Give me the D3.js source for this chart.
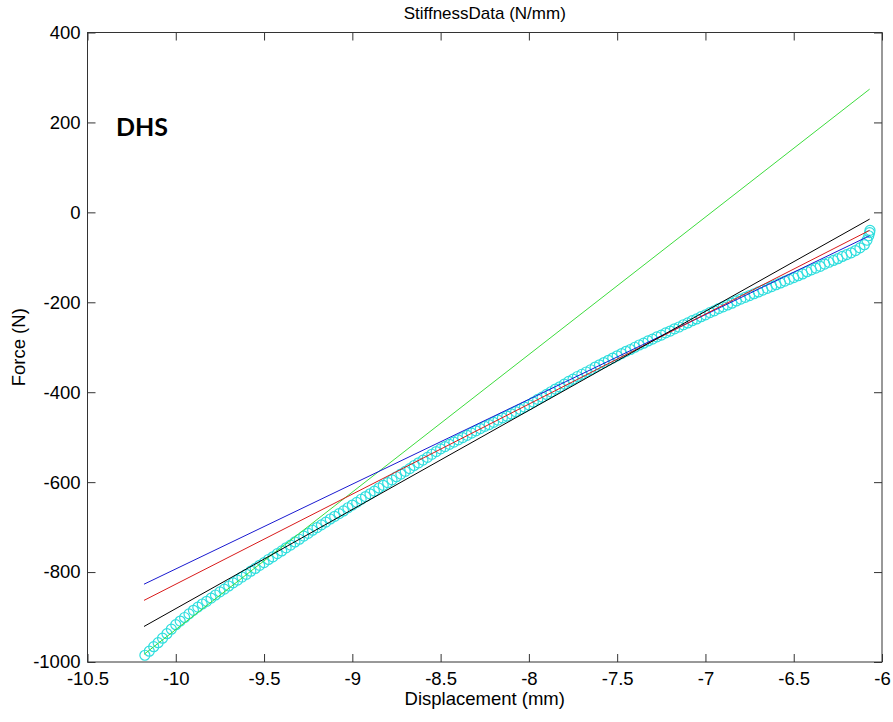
<!DOCTYPE html>
<html>
<head>
<meta charset="utf-8">
<script src="https://cdn.jsdelivr.net/npm/d3@7"></script>
<style>
  body { margin: 0; background: #fff; }
  svg text { font-family: "Liberation Sans", Arial, sans-serif; fill: #000; }
</style>
</head>
<body>
<svg id="stiffness" width="893" height="722"></svg>
<script>
// tick labels
const xTicks = [-10.5, -10, -9.5, -9, -8.5, -8, -7.5, -7, -6.5, -6];
const yTicks = [-1000, -800, -600, -400, -200, 0, 200, 400];

// measured force vs displacement (cyan circles)
const measured = [
  [-10.175, -985], [-10.15, -976], [-10.125, -966], [-10.1, -957],
  [-10.075, -947], [-10.05, -937], [-10.025, -927], [-10.0, -917],
  [-9.975, -909], [-9.95, -901], [-9.925, -893], [-9.9, -885],
  [-9.875, -878], [-9.85, -871], [-9.825, -865], [-9.8, -858],
  [-9.775, -851], [-9.75, -844], [-9.725, -838], [-9.7, -831],
  [-9.675, -824], [-9.65, -818], [-9.625, -811], [-9.6, -805],
  [-9.575, -798], [-9.55, -792], [-9.525, -785], [-9.5, -779],
  [-9.475, -772], [-9.45, -766], [-9.425, -759], [-9.4, -753],
  [-9.375, -746], [-9.35, -740], [-9.325, -733], [-9.3, -727],
  [-9.275, -720], [-9.25, -714], [-9.225, -707], [-9.2, -701],
  [-9.175, -695], [-9.15, -689], [-9.125, -682], [-9.1, -676],
  [-9.075, -670], [-9.05, -664], [-9.025, -657], [-9.0, -651],
  [-8.975, -645], [-8.95, -638], [-8.925, -632], [-8.9, -626],
  [-8.875, -620], [-8.85, -613], [-8.825, -607], [-8.8, -601],
  [-8.775, -595], [-8.75, -588], [-8.725, -582], [-8.7, -576],
  [-8.675, -570], [-8.65, -563], [-8.625, -557], [-8.6, -551],
  [-8.575, -545], [-8.55, -538], [-8.525, -532], [-8.5, -526],
  [-8.475, -521], [-8.45, -516], [-8.425, -511], [-8.4, -506],
  [-8.375, -501], [-8.35, -496], [-8.325, -491], [-8.3, -486],
  [-8.275, -481], [-8.25, -476], [-8.225, -472], [-8.2, -467],
  [-8.175, -462], [-8.15, -457], [-8.125, -453], [-8.1, -448],
  [-8.075, -443], [-8.05, -438], [-8.025, -433], [-8.0, -428],
  [-7.975, -422], [-7.95, -416], [-7.925, -411], [-7.9, -405],
  [-7.875, -399], [-7.85, -393], [-7.825, -388], [-7.8, -382],
  [-7.775, -376], [-7.75, -371], [-7.725, -365], [-7.7, -360],
  [-7.675, -355], [-7.65, -350], [-7.625, -344], [-7.6, -339],
  [-7.575, -334], [-7.55, -329], [-7.525, -324], [-7.5, -319],
  [-7.475, -314], [-7.45, -309], [-7.425, -305], [-7.4, -300],
  [-7.375, -295], [-7.35, -291], [-7.325, -286], [-7.3, -282],
  [-7.275, -277], [-7.25, -273], [-7.225, -268], [-7.2, -264],
  [-7.175, -259], [-7.15, -255], [-7.125, -250], [-7.1, -246],
  [-7.075, -241], [-7.05, -237], [-7.025, -232], [-7.0, -228],
  [-6.975, -223], [-6.95, -219], [-6.925, -214], [-6.9, -210],
  [-6.875, -206], [-6.85, -202], [-6.825, -197], [-6.8, -193],
  [-6.775, -189], [-6.75, -185], [-6.725, -181], [-6.7, -177],
  [-6.675, -173], [-6.65, -169], [-6.625, -165], [-6.6, -161],
  [-6.575, -157], [-6.55, -153], [-6.525, -149], [-6.5, -145],
  [-6.475, -141], [-6.45, -137], [-6.425, -132], [-6.4, -128],
  [-6.375, -124], [-6.35, -120], [-6.325, -115], [-6.3, -111],
  [-6.275, -107], [-6.25, -103], [-6.225, -98], [-6.2, -94],
  [-6.175, -90], [-6.15, -85], [-6.125, -79], [-6.1, -72],
  [-6.085, -62], [-6.075, -52], [-6.07, -45], [-6.068, -40]
];

// fitted stiffness lines: [start, end]
const blueFit = [[-10.18, -827], [-6.07, -52]];
const redFit = [[-10.18, -863], [-6.07, -40]];
const blackFit = [[-10.18, -921], [-6.07, -15]];
const greenFit = [[-10.18, -983], [-6.07, 274]];

const fits = [
  { pts: greenFit, color: '#3ddc3d' },
  { pts: blueFit, color: '#1a1ad0' },
  { pts: redFit, color: '#d81a1a' },
  { pts: blackFit, color: '#000000' }
];

const margin = { top: 32.5, left: 87.5, right: 11, bottom: 60 };
const svg = d3.select('svg#stiffness');
const width = 893 - margin.left - margin.right;
const height = 722 - margin.top - margin.bottom;

const g = svg.append('g')
  .attr('transform', `translate(${margin.left},${margin.top})`);

const xScale = d3.scaleLinear().domain([-10.5, -6]).range([0, width]);
const yScale = d3.scaleLinear().domain([-1000, 400]).range([height, 0]);

const fmt = d => String(d);

// axes, ticks pointing inward on all four sides
g.append('g')
  .attr('class', 'x-axis')
  .attr('transform', `translate(0,${height})`)
  .call(d3.axisBottom(xScale).tickValues(xTicks).tickFormat(fmt).tickSizeInner(-8).tickSizeOuter(0).tickPadding(10))
  .call(a => a.select('.domain').remove());

g.append('g')
  .attr('class', 'x-axis-top')
  .call(d3.axisTop(xScale).tickValues(xTicks).tickFormat('').tickSizeInner(-8).tickSizeOuter(0))
  .call(a => a.select('.domain').remove());

g.append('g')
  .attr('class', 'y-axis')
  .call(d3.axisLeft(yScale).tickValues(yTicks).tickFormat(fmt).tickSizeInner(-8).tickSizeOuter(0).tickPadding(7))
  .call(a => a.select('.domain').remove());

g.append('g')
  .attr('class', 'y-axis-right')
  .attr('transform', `translate(${width},0)`)
  .call(d3.axisRight(yScale).tickValues(yTicks).tickFormat('').tickSizeInner(-8).tickSizeOuter(0))
  .call(a => a.select('.domain').remove());

g.selectAll('.tick line').attr('stroke', '#333');
g.selectAll('.tick text')
  .style('font-size', '18.5px')
  .attr('fill', '#000');
g.selectAll('.x-axis .tick text').attr('dy', '0.72em');

g.append('rect')
  .attr('width', width)
  .attr('height', height)
  .attr('fill', 'none')
  .attr('stroke', '#333')
  .attr('stroke-width', 1);

// measured data circles
g.append('g')
  .selectAll('circle')
  .data(measured)
  .enter()
  .append('circle')
  .attr('cx', d => xScale(d[0]))
  .attr('cy', d => yScale(d[1]))
  .attr('r', 5)
  .attr('fill', 'none')
  .attr('stroke', '#2fdede')
  .attr('stroke-width', 1.2);

const line = d3.line().x(d => xScale(d[0])).y(d => yScale(d[1]));

g.append('g')
  .selectAll('path')
  .data(fits)
  .enter()
  .append('path')
  .attr('d', d => line(d.pts))
  .attr('fill', 'none')
  .attr('stroke', d => d.color)
  .attr('stroke-width', 1);

// titles
svg.append('text')
  .text('StiffnessData (N/mm)')
  .attr('x', margin.left + width / 2)
  .attr('y', 19)
  .attr('text-anchor', 'middle')
  .style('font-size', '17px');

svg.append('text')
  .text('Displacement (mm)')
  .attr('x', margin.left + width / 2)
  .attr('y', 705)
  .attr('text-anchor', 'middle')
  .style('font-size', '18.5px');

svg.append('text')
  .text('Force (N)')
  .attr('transform', `translate(25,${margin.top + height / 2}) rotate(-90)`)
  .attr('text-anchor', 'middle')
  .style('font-size', '18.5px');

svg.append('text')
  .text('DHS')
  .attr('x', 116)
  .attr('y', 136)
  .style('font-family', 'Lato, "Open Sans", sans-serif')
  .style('font-weight', 'bold')
  .style('font-size', '25px');
</script>
</body>
</html>
